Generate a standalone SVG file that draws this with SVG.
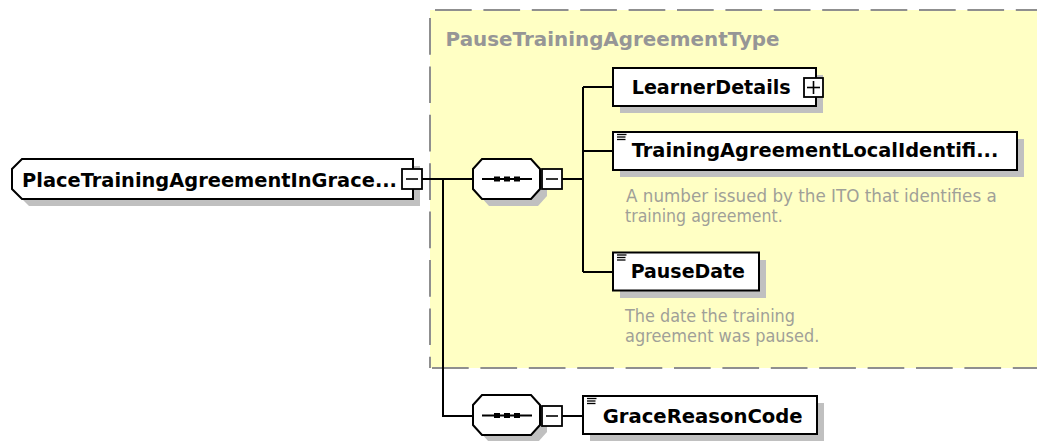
<svg xmlns="http://www.w3.org/2000/svg" width="1037" height="441" viewBox="0 0 1037 441">
<defs>
<style>
.shadow{fill:#c0c0c0;stroke:none}
.box{fill:#ffffff;stroke:#000;stroke-width:2}
.btn{fill:#ffffff;stroke:#000;stroke-width:1.8}
.sign{stroke:#000;stroke-width:1.6;fill:none}
.conn{stroke:#000;stroke-width:2;fill:none}
.name{font-family:"DejaVu Sans","Liberation Sans",sans-serif;font-weight:bold;font-size:19px;fill:#000}
.title{font-family:"DejaVu Sans","Liberation Sans",sans-serif;font-weight:bold;font-size:19px;fill:#969696}
.doc{font-family:"DejaVu Sans","Liberation Sans",sans-serif;font-size:17.5px;fill:#a0a098}
.dash{stroke:#8f8f8f;stroke-width:2;fill:none;stroke-dasharray:36.7 11.7}
.icon{stroke:#000;stroke-width:1.3}
</style>
</defs>
<rect width="1037" height="441" fill="#ffffff"/>
<g id="type-PauseTrainingAgreementType">
<rect x="430" y="10" width="620" height="358" fill="#ffffc4"/>
<line class="dash" x1="435" y1="10" x2="1037" y2="10"/>
<line class="dash" x1="430" y1="18" x2="430" y2="368"/>
<line class="dash" x1="430" y1="368" x2="1037" y2="368" style="stroke-dashoffset:-2"/>
<text class="title" x="445.6" y="46" textLength="334" lengthAdjust="spacingAndGlyphs">PauseTrainingAgreementType</text>
</g>
<g id="connectors">
<line class="conn" x1="422" y1="179" x2="473" y2="179"/>
<polyline class="conn" points="443,179 443,416 473,416"/>
<line class="conn" x1="562" y1="179" x2="583" y2="179"/>
<line class="conn" x1="583" y1="87" x2="583" y2="272"/>
<line class="conn" x1="583" y1="87" x2="613" y2="87"/>
<line class="conn" x1="583" y1="151" x2="613" y2="151"/>
<line class="conn" x1="583" y1="272" x2="613" y2="272"/>
<line class="conn" x1="562" y1="416" x2="583" y2="416"/>
</g>
<g id="node-root">
<polygon class="shadow" points="29,166 420,166 420,206 29,206 19,196 19,176"/>
<polygon class="box" points="22,159 413,159 413,199 22,199 12,189 12,169"/>
<text class="name" x="22" y="186.5" textLength="375" lengthAdjust="spacingAndGlyphs">PlaceTrainingAgreementInGrace...</text>
<rect class="btn" x="402" y="169" width="20" height="20"/>
<line class="sign" x1="406" y1="179" x2="418" y2="179"/>
</g>
<g id="node-sequence1">
<polygon class="shadow" points="489,166 538,166 547,176 547,196 538,206 489,206 480,196 480,176"/>
<polygon class="box" points="482,159 531,159 540,169 540,189 531,199 482,199 473,189 473,169"/>
<line x1="482" y1="179" x2="532" y2="179" stroke="#000" stroke-width="2"/>
<rect x="494" y="176.5" width="6" height="5"/>
<rect x="504" y="176.5" width="6" height="5"/>
<rect x="514" y="176.5" width="6" height="5"/>
<rect class="btn" x="542" y="169" width="20" height="20"/>
<line class="sign" x1="546" y1="179" x2="558" y2="179"/>
</g>
<g id="node-LearnerDetails">
<rect class="shadow" x="620" y="75" width="203" height="38"/>
<rect class="box" x="613" y="68" width="203" height="38"/>
<text class="name" x="631.7" y="94.3" textLength="159" lengthAdjust="spacingAndGlyphs">LearnerDetails</text>
<rect class="btn" x="804" y="78" width="19" height="19"/>
<line class="sign" x1="807" y1="87.5" x2="820" y2="87.5"/>
<line class="sign" x1="813.5" y1="81" x2="813.5" y2="94"/>
</g>
<g id="node-TrainingAgreementLocalIdentifier">
<rect class="shadow" x="620" y="139" width="404" height="38"/>
<rect class="box" x="613" y="132" width="404" height="38"/>
<line class="icon" x1="617" y1="134.5" x2="626.5" y2="134.5"/>
<line class="icon" x1="617" y1="137" x2="625.5" y2="137"/>
<line class="icon" x1="617" y1="139.5" x2="625.5" y2="139.5"/>
<text class="name" x="631.7" y="157" textLength="366.6" lengthAdjust="spacingAndGlyphs">TrainingAgreementLocalIdentifi...</text>
<text class="doc" x="626" y="201.7" textLength="370.7" lengthAdjust="spacingAndGlyphs">A number issued by the ITO that identifies a</text>
<text class="doc" x="625" y="221.7" textLength="157.7" lengthAdjust="spacingAndGlyphs">training agreement.</text>
</g>
<g id="node-PauseDate">
<rect class="shadow" x="620" y="260" width="146" height="38"/>
<rect class="box" x="613" y="252.5" width="146" height="38"/>
<line class="icon" x1="617" y1="255" x2="626.5" y2="255"/>
<line class="icon" x1="617" y1="257.5" x2="625.5" y2="257.5"/>
<line class="icon" x1="617" y1="260" x2="625.5" y2="260"/>
<text class="name" x="630.7" y="278.3" textLength="114.3" lengthAdjust="spacingAndGlyphs">PauseDate</text>
<text class="doc" x="625" y="321.7" textLength="170" lengthAdjust="spacingAndGlyphs">The date the training</text>
<text class="doc" x="625" y="341.7" textLength="194.3" lengthAdjust="spacingAndGlyphs">agreement was paused.</text>
</g>
<g id="node-sequence2">
<polygon class="shadow" points="489,402 538,402 547,412 547,432 538,442 489,442 480,432 480,412"/>
<polygon class="box" points="482,395 531,395 540,405 540,425 531,435 482,435 473,425 473,405"/>
<line x1="482" y1="415.5" x2="532" y2="415.5" stroke="#000" stroke-width="2"/>
<rect x="494" y="413" width="6" height="5"/>
<rect x="504" y="413" width="6" height="5"/>
<rect x="514" y="413" width="6" height="5"/>
<rect class="btn" x="542" y="406" width="20" height="20"/>
<line class="sign" x1="546" y1="416" x2="558" y2="416"/>
</g>
<g id="node-GraceReasonCode">
<rect class="shadow" x="590" y="403" width="234" height="38"/>
<rect class="box" x="583" y="396" width="234" height="38"/>
<line class="icon" x1="587" y1="398.5" x2="596.5" y2="398.5"/>
<line class="icon" x1="587" y1="401" x2="595.5" y2="401"/>
<line class="icon" x1="587" y1="403.5" x2="595.5" y2="403.5"/>
<text class="name" x="602.7" y="423.3" textLength="200" lengthAdjust="spacingAndGlyphs">GraceReasonCode</text>
</g>
</svg>
